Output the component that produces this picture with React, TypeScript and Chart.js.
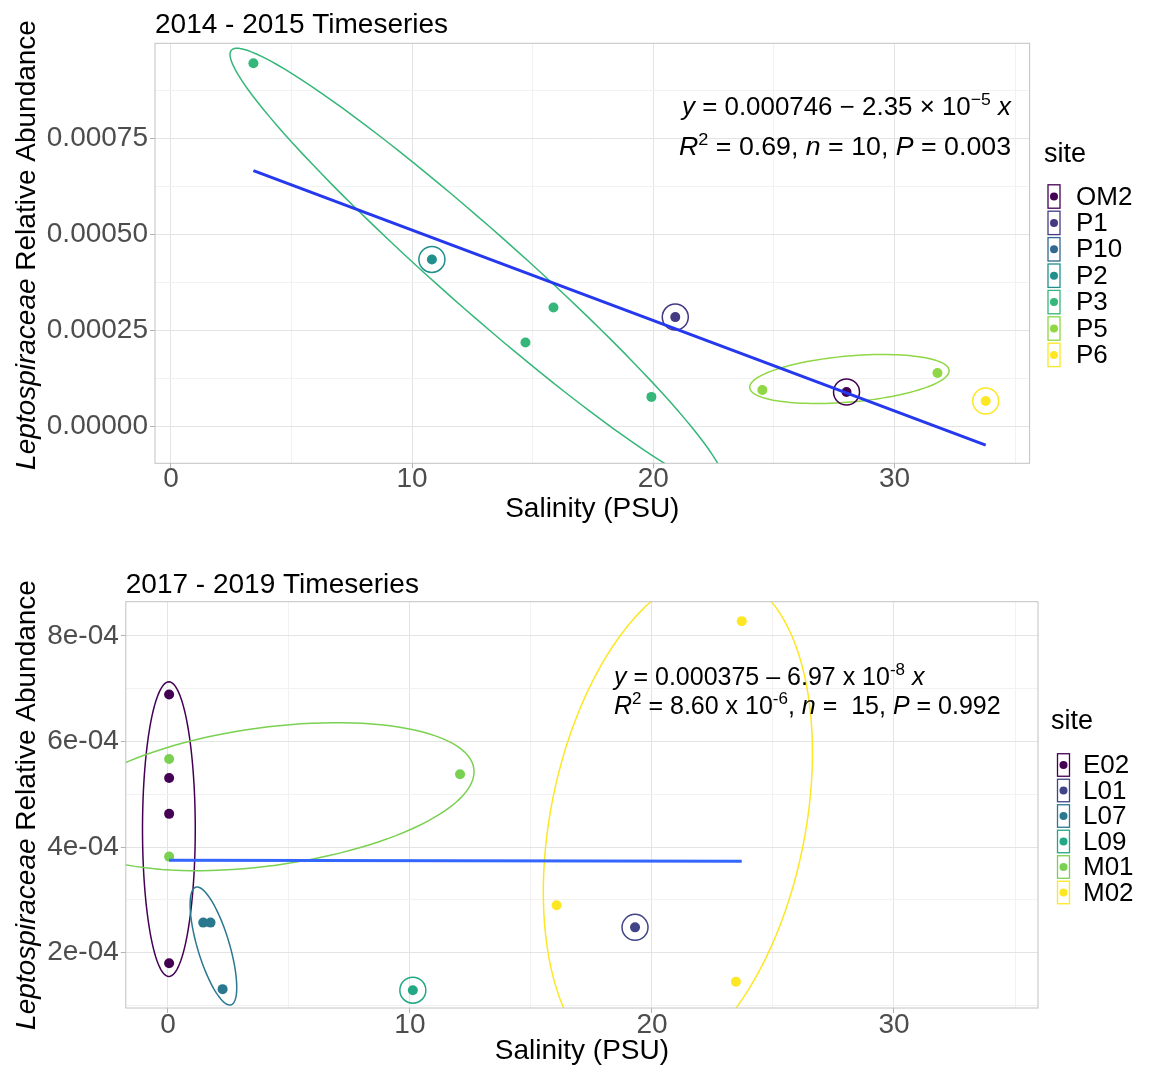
import React, { useEffect, useRef } from 'react';
import { Chart, registerables } from 'chart.js';

Chart.register(...registerables);

const FONT = '"Liberation Sans", Arial, Helvetica, sans-serif';

// ---------------- 2014 - 2015 Timeseries ----------------
const sites1 = ['OM2', 'P1', 'P10', 'P2', 'P3', 'P5', 'P6'];
const siteColors1 = ['#440154', '#443A83', '#31688E', '#21908C', '#35B779', '#8FD744', '#FDE725'];
const sampleSite1 = ['P3', 'P2', 'P3', 'P3', 'P3', 'P1', 'P5', 'OM2', 'P5', 'P6'];
const salinity1 = [3.42, 10.82, 15.86, 14.7, 19.92, 20.91, 24.52, 28.01, 31.78, 33.78];
const abundance1 = [0.000945, 0.000435, 0.00031, 0.000219, 0.0000775, 0.000285, 0.0000955, 0.0000903, 0.0001398, 0.0000669];
const fitSalinity1 = [3.42, 33.78];
const fitAbundance1 = [0.000666, -0.0000478];
const ellipseSite1 = ['P3', 'P5'];
const ellipseCenterX1 = [12.7, 28.13];
const ellipseCenterY1 = [0.000413, 0.000124];
const ellipseMajorX1 = [10.195, 4.133];
const ellipseMajorY1 = [-0.000566, 0.0000226];
const ellipseMinorX1 = [-1.075, 0.083];
const ellipseMinorY1 = [-0.000076, -0.0000596];
const xMajorTicks1 = [0, 10, 20, 30];
const xTickLabels1 = ['0', '10', '20', '30'];
const xMinorTicks1 = [5, 15, 25, 35];
const yMajorTicks1 = [0, 0.00025, 0.0005, 0.00075];
const yTickLabels1 = ['0.00000', '0.00025', '0.00050', '0.00075'];
const yMinorTicks1 = [0.000125, 0.000375, 0.000625, 0.000875];
const xRange1 = [-0.66, 35.6];
const yRange1 = [-0.0000952, 0.000997];

// ---------------- 2017 - 2019 Timeseries ----------------
const sites2 = ['E02', 'L01', 'L07', 'L09', 'M01', 'M02'];
const siteColors2 = ['#440154', '#414487', '#2A788E', '#22A884', '#7AD151', '#FDE725'];
const sampleSite2 = ['E02', 'E02', 'E02', 'E02', 'M01', 'M01', 'M01', 'L07', 'L07', 'L07', 'L09', 'L01', 'M02', 'M02', 'M02'];
const salinity2 = [0.05, 0.05, 0.05, 0.05, 0.05, 0.05, 12.07, 1.46, 1.76, 2.26, 10.12, 19.3, 16.06, 23.71, 23.47];
const abundance2 = [0.000689, 0.000531, 0.000463, 0.00018, 0.000567, 0.000382, 0.000538, 0.000257, 0.000257, 0.000131, 0.000129, 0.000248, 0.00029, 0.000828, 0.000145];
const fitSalinity2 = [0.05, 23.71];
const fitAbundance2 = [0.000375, 0.000373];
const ellipseSite2 = ['E02', 'M01', 'L07', 'M02'];
const ellipseCenterX2 = [0.04, 4.08, 1.88, 21.07];
const ellipseCenterY2 = [0.000434, 0.0004955, 0.0002127, 0.000447];
const ellipseMajorX2 = [0, 8.56, 0.727, 2.1];
const ellipseMajorY2 = [0.000279, 0.0000532, -0.0001114, 0.00047];
const ellipseMinorX2 = [1.09, 0.384, 0.632, 5.149];
const ellipseMinorY2 = [0, -0.0001297, 0.0000087, -0.0000491];
const xMajorTicks2 = [0, 10, 20, 30];
const xTickLabels2 = ['0', '10', '20', '30'];
const xMinorTicks2 = [5, 15, 25, 35];
const yMajorTicks2 = [0.0002, 0.0004, 0.0006, 0.0008];
const yTickLabels2 = ['2e-04', '4e-04', '6e-04', '8e-04'];
const yMinorTicks2 = [0.0001, 0.0003, 0.0005, 0.0007];
const xRange2 = [-1.74, 35.95];
const yRange2 = [0.0000953, 0.0008648];

type Seg = { t: string; i?: boolean; sup?: boolean };

const eq1Line1: Seg[] = [{ t: 'y', i: true }, { t: ' = 0.000746 \u2212 2.35 \u00d7 10' }, { t: '\u22125', sup: true }, { t: ' ' }, { t: 'x', i: true }];
const eq1Line2: Seg[] = [{ t: 'R', i: true }, { t: '2', sup: true }, { t: ' = 0.69, ' }, { t: 'n', i: true }, { t: ' = 10, ' }, { t: 'P', i: true }, { t: ' = 0.003' }];
const eq2Line1: Seg[] = [{ t: 'y', i: true }, { t: ' = 0.000375 \u2013 6.97 x 10' }, { t: '-8', sup: true }, { t: ' ' }, { t: 'x', i: true }];
const eq2Line2: Seg[] = [{ t: 'R', i: true }, { t: '2', sup: true }, { t: ' = 8.60 x 10' }, { t: '-6', sup: true }, { t: ', ' }, { t: 'n', i: true }, { t: ' =  15, ' }, { t: 'P', i: true }, { t: ' = 0.992' }];
const yTitleSegs: Seg[] = [{ t: 'Leptospiraceae', i: true }, { t: ' Relative Abundance' }];

function segFont(size: number, s: Seg) {
  return `${s.i ? 'italic ' : ''}${s.sup ? Math.round(size * 0.68) : size}px ${FONT}`;
}
function richWidth(ctx: CanvasRenderingContext2D, segs: Seg[], size: number) {
  let w = 0;
  for (const s of segs) {
    ctx.font = segFont(size, s);
    w += ctx.measureText(s.t).width;
  }
  return w;
}
function drawRich(ctx: CanvasRenderingContext2D, segs: Seg[], x: number, y: number, size: number, align: string, targetWidth?: number) {
  const w = richWidth(ctx, segs, size);
  const sx = targetWidth ? targetWidth / w : 1;
  const tw = w * sx;
  const start = align === 'right' ? x - tw : align === 'center' ? x - tw / 2 : x;
  ctx.save();
  ctx.translate(start, y);
  ctx.scale(sx, 1);
  ctx.textAlign = 'left';
  let cx = 0;
  for (const s of segs) {
    ctx.font = segFont(size, s);
    ctx.fillText(s.t, cx, s.sup ? -size * 0.4 : 0);
    cx += ctx.measureText(s.t).width;
  }
  ctx.restore();
}

type PanelSpec = {
  offsetTop: number;
  height: number;
  area: { left: number; right: number; top: number; bottom: number };
  sites: string[];
  colors: string[];
  sampleSite: string[];
  salinity: number[];
  abundance: number[];
  fitX: number[];
  fitY: number[];
  fitColor: string;
  eSite: string[];
  eCx: number[];
  eCy: number[];
  eAx: number[];
  eAy: number[];
  eBx: number[];
  eBy: number[];
  xMajor: number[];
  xLabels: string[];
  xMinor: number[];
  yMajor: number[];
  yLabels: string[];
  yMinor: number[];
  xRange: number[];
  yRange: number[];
  xTickPad: number;
  title: string;
  titlePos: { x: number; y: number };
  yTitlePos: { x: number; y: number };
  xTitleY: number;
  eqLines: Seg[][];
  eqAlign: string;
  eqX: number;
  eqY: number[];
  eqSize: number;
  eqWidth?: number[];
  legend: { titleX: number; titleY: number; keyX: number; rowY: number; step: number; textX: number };
};

const panels: PanelSpec[] = [
  {
    offsetTop: 0,
    height: 535,
    area: { left: 155, right: 1029.6, top: 43.3, bottom: 463.3 },
    sites: sites1, colors: siteColors1, sampleSite: sampleSite1, salinity: salinity1, abundance: abundance1,
    fitX: fitSalinity1, fitY: fitAbundance1, fitColor: '#2438ee',
    eSite: ellipseSite1, eCx: ellipseCenterX1, eCy: ellipseCenterY1, eAx: ellipseMajorX1, eAy: ellipseMajorY1, eBx: ellipseMinorX1, eBy: ellipseMinorY1,
    xMajor: xMajorTicks1, xLabels: xTickLabels1, xMinor: xMinorTicks1,
    yMajor: yMajorTicks1, yLabels: yTickLabels1, yMinor: yMinorTicks1,
    xRange: xRange1, yRange: yRange1, xTickPad: -3,
    title: '2014 - 2015 Timeseries', titlePos: { x: 155, y: 33 },
    yTitlePos: { x: 27, y: 245 }, xTitleY: 509,
    eqLines: [eq1Line1, eq1Line2], eqAlign: 'right', eqX: 1011, eqY: [115, 155], eqSize: 25, eqWidth: [329, 332],
    legend: { titleX: 1044, titleY: 155, keyX: 1054, rowY: 196.5, step: 26.4, textX: 1076 },
  },
  {
    offsetTop: 535,
    height: 533,
    area: { left: 125.8, right: 1038, top: 66.7, bottom: 473 },
    sites: sites2, colors: siteColors2, sampleSite: sampleSite2, salinity: salinity2, abundance: abundance2,
    fitX: fitSalinity2, fitY: fitAbundance2, fitColor: '#3366ff',
    eSite: ellipseSite2, eCx: ellipseCenterX2, eCy: ellipseCenterY2, eAx: ellipseMajorX2, eAy: ellipseMajorY2, eBx: ellipseMinorX2, eBy: ellipseMinorY2,
    xMajor: xMajorTicks2, xLabels: xTickLabels2, xMinor: xMinorTicks2,
    yMajor: yMajorTicks2, yLabels: yTickLabels2, yMinor: yMinorTicks2,
    xRange: xRange2, yRange: yRange2, xTickPad: -2,
    title: '2017 - 2019 Timeseries', titlePos: { x: 125.8, y: 58 },
    yTitlePos: { x: 27, y: 270 }, xTitleY: 516,
    eqLines: [eq2Line1, eq2Line2], eqAlign: 'left', eqX: 614, eqY: [150, 179], eqSize: 25,
    legend: { titleX: 1051, titleY: 187, keyX: 1063.5, rowY: 230, step: 25.5, textX: 1083 },
  },
];

const near = (a: number, b: number) => Math.abs(a - b) < 1e-9 * Math.max(1, Math.abs(a)) + 1e-12;

function buildConfig(p: PanelSpec): any {
  const counts = new Map<string, number>();
  p.sampleSite.forEach((s) => counts.set(s, (counts.get(s) || 0) + 1));

  const pointSets = p.sites.map((site, i) => ({
    type: 'scatter',
    label: site,
    data: p.salinity
      .map((x, j) => ({ x, y: p.abundance[j], s: p.sampleSite[j] }))
      .filter((d) => d.s === site)
      .map((d) => ({ x: d.x, y: d.y })),
    backgroundColor: p.colors[i],
    borderColor: p.colors[i],
    borderWidth: 0,
    pointRadius: 5,
    order: 1,
  }));

  const fitSet = {
    type: 'line',
    label: 'fit',
    data: p.fitX.map((x, i) => ({ x, y: p.fitY[i] })),
    borderColor: p.fitColor,
    borderWidth: 3,
    pointRadius: 0,
    fill: false,
    tension: 0,
    order: 0,
  };

  const majorX = (v: number) => p.xMajor.some((m) => near(m, v));
  const majorY = (v: number) => p.yMajor.some((m) => near(m, v));

  const overlay = {
    id: 'overlay' + p.offsetTop,
    beforeDatasetsDraw(chart: any) {
      const { ctx, chartArea: a, scales } = chart;
      const xs = scales.x;
      const ys = scales.y;
      ctx.save();
      ctx.beginPath();
      ctx.rect(a.left, a.top, a.right - a.left, a.bottom - a.top);
      ctx.clip();
      // ellipses
      p.eSite.forEach((site, k) => {
        const color = p.colors[p.sites.indexOf(site)];
        ctx.beginPath();
        for (let n = 0; n <= 120; n++) {
          const t = (n / 120) * Math.PI * 2;
          const vx = p.eCx[k] + p.eAx[k] * Math.cos(t) + p.eBx[k] * Math.sin(t);
          const vy = p.eCy[k] + p.eAy[k] * Math.cos(t) + p.eBy[k] * Math.sin(t);
          const px = xs.getPixelForValue(vx);
          const py = ys.getPixelForValue(vy);
          if (n === 0) ctx.moveTo(px, py);
          else ctx.lineTo(px, py);
        }
        ctx.closePath();
        ctx.strokeStyle = color;
        ctx.lineWidth = 1.5;
        ctx.stroke();
      });
      // rings around single-sample sites
      p.salinity.forEach((x, j) => {
        const site = p.sampleSite[j];
        if (counts.get(site) !== 1) return;
        const color = p.colors[p.sites.indexOf(site)];
        ctx.beginPath();
        ctx.arc(xs.getPixelForValue(x), ys.getPixelForValue(p.abundance[j]), 13, 0, Math.PI * 2);
        ctx.strokeStyle = color;
        ctx.lineWidth = 1.5;
        ctx.stroke();
      });
      ctx.restore();
    },
    afterDraw(chart: any) {
      const { ctx, chartArea: a } = chart;
      ctx.save();
      // panel border
      ctx.strokeStyle = '#c2c2c2';
      ctx.lineWidth = 1;
      ctx.strokeRect(a.left, a.top, a.right - a.left, a.bottom - a.top);

      ctx.fillStyle = '#000000';
      ctx.textBaseline = 'alphabetic';
      // title
      ctx.font = `28px ${FONT}`;
      ctx.textAlign = 'left';
      ctx.fillText(p.title, p.titlePos.x, p.titlePos.y);

      // x title
      ctx.textBaseline = 'middle';
      ctx.textAlign = 'center';
      ctx.font = `28px ${FONT}`;
      ctx.fillText('Salinity (PSU)', (a.left + a.right) / 2, p.xTitleY);

      // y title
      ctx.save();
      ctx.translate(p.yTitlePos.x, p.yTitlePos.y);
      ctx.rotate(-Math.PI / 2);
      drawRich(ctx, yTitleSegs, 0, 0, 28, 'center');
      ctx.restore();

      // equation
      ctx.textBaseline = 'alphabetic';
      p.eqLines.forEach((segs, i) => {
        drawRich(ctx, segs, p.eqX, p.eqY[i], p.eqSize, p.eqAlign, p.eqWidth ? p.eqWidth[i] : undefined);
      });

      // legend
      const L = p.legend;
      ctx.textAlign = 'left';
      ctx.textBaseline = 'middle';
      ctx.font = `27px ${FONT}`;
      ctx.fillText('site', L.titleX, L.titleY);
      ctx.font = `26px ${FONT}`;
      p.sites.forEach((site, i) => {
        const cy = L.rowY + i * L.step;
        ctx.strokeStyle = p.colors[i];
        ctx.lineWidth = 1.3;
        ctx.strokeRect(L.keyX - 6, cy - L.step / 2 + 1.5, 12, L.step - 3);
        ctx.beginPath();
        ctx.arc(L.keyX, cy, 4, 0, Math.PI * 2);
        ctx.fillStyle = p.colors[i];
        ctx.fill();
        ctx.fillStyle = '#000000';
        ctx.fillText(site, L.textX, cy + 1);
      });
      ctx.restore();
    },
  };

  const gridColor = (isMajor: (v: number) => boolean) => (c: any) =>
    c.tick && isMajor(c.tick.value) ? '#e4e4e4' : '#f2f2f2';
  const tickColor = (isMajor: (v: number) => boolean) => (c: any) =>
    c.tick && isMajor(c.tick.value) ? '#b3b3b3' : 'rgba(0,0,0,0)';

  return {
    type: 'scatter',
    data: { datasets: [fitSet, ...pointSets] },
    options: {
      animation: false,
      responsive: false,
      events: [],
      layout: {
        padding: { left: 0, top: p.area.top, right: 1149 - p.area.right, bottom: 0 },
      },
      plugins: { legend: { display: false }, tooltip: { enabled: false }, title: { display: false } },
      scales: {
        x: {
          type: 'linear',
          min: p.xRange[0],
          max: p.xRange[1],
          afterBuildTicks: (s: any) => {
            s.ticks = [...p.xMajor, ...p.xMinor].sort((a, b) => a - b).map((v) => ({ value: v }));
          },
          afterFit: (s: any) => {
            s.height = p.height - p.area.bottom;
          },
          ticks: {
            autoSkip: false,
            maxRotation: 0,
            minRotation: 0,
            padding: p.xTickPad,
            color: '#4d4d4d',
            font: { family: FONT, size: 28, lineHeight: 1 },
            callback: (v: number) => {
              const k = p.xMajor.findIndex((m) => near(m, v));
              return k >= 0 ? p.xLabels[k] : '';
            },
          },
          grid: {
            color: gridColor(majorX),
            lineWidth: 1,
            tickColor: tickColor(majorX),
            tickLength: 5,
            drawTicks: true,
          },
          border: { display: false },
          title: { display: false },
        },
        y: {
          type: 'linear',
          min: p.yRange[0],
          max: p.yRange[1],
          afterBuildTicks: (s: any) => {
            s.ticks = [...p.yMajor, ...p.yMinor].sort((a, b) => a - b).map((v) => ({ value: v }));
          },
          afterFit: (s: any) => {
            s.width = p.area.left;
          },
          ticks: {
            autoSkip: false,
            padding: 2,
            color: '#4d4d4d',
            font: { family: FONT, size: 28, lineHeight: 1 },
            callback: (v: number) => {
              const k = p.yMajor.findIndex((m) => near(m, v));
              return k >= 0 ? p.yLabels[k] : '';
            },
          },
          grid: {
            color: gridColor(majorY),
            lineWidth: 1,
            tickColor: tickColor(majorY),
            tickLength: 5,
            drawTicks: true,
          },
          border: { display: false },
          title: { display: false },
        },
      },
    },
    plugins: [overlay],
  };
}

function PanelChart({ p }: { p: PanelSpec }) {
  const ref = useRef<HTMLCanvasElement>(null);
  useEffect(() => {
    if (!ref.current) return;
    const chart = new Chart(ref.current, buildConfig(p));
    return () => chart.destroy();
  }, [p]);
  return (
    <canvas
      ref={ref}
      width={1149}
      height={p.height}
      style={{ position: 'absolute', left: 0, top: p.offsetTop, width: 1149, height: p.height, display: 'block' }}
    />
  );
}

export default function App() {
  return (
    <div style={{ position: 'absolute', left: 0, top: 0, width: 1149, height: 1068, background: '#ffffff', overflow: 'hidden' }}>
      {panels.map((p) => (
        <PanelChart key={p.offsetTop} p={p} />
      ))}
    </div>
  );
}
